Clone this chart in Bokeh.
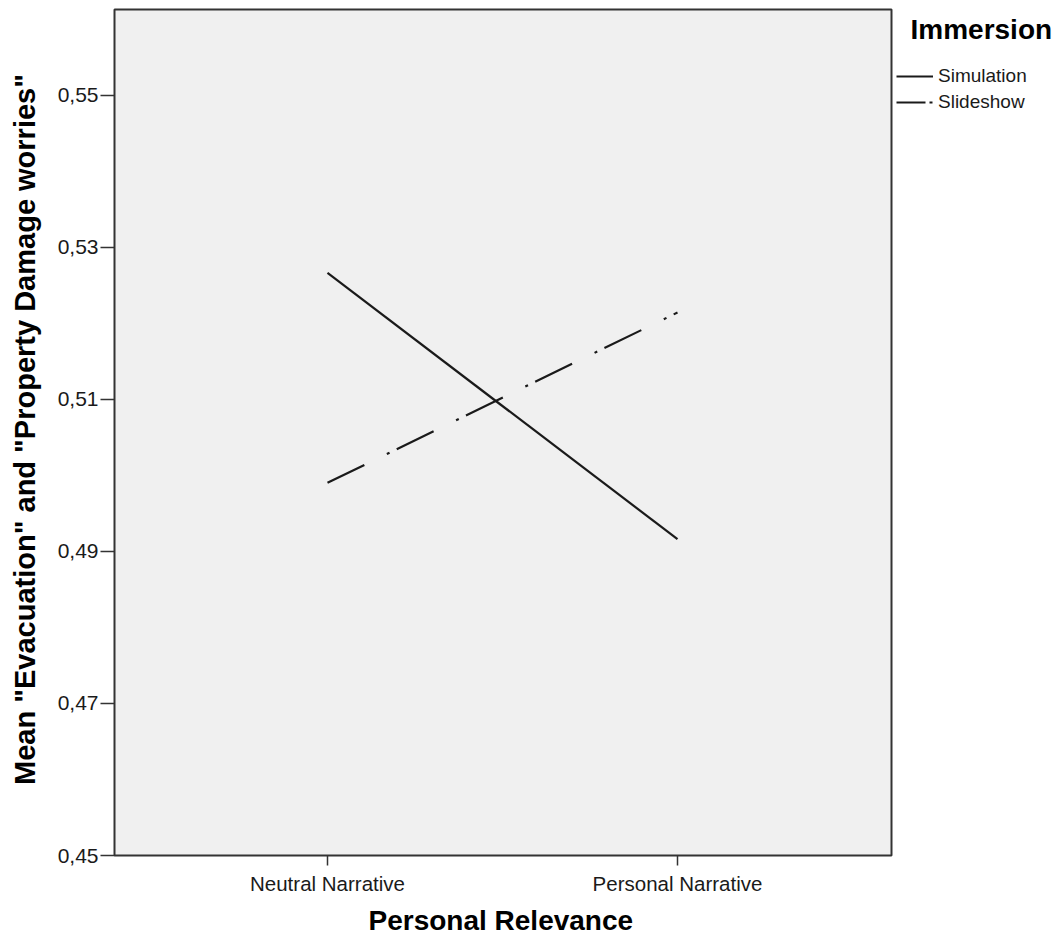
from bokeh.plotting import figure
from bokeh.models import (Range1d, FixedTicker, CustomJSTickFormatter, Legend,
                          LegendItem, Label, BoxAnnotation, Title)
from bokeh.embed import file_html
from bokeh.resources import INLINE

# ---- data ----
categories = ["Neutral Narrative", "Personal Narrative"]
series_names = ["Simulation", "Slideshow"]
simulation = [0.5266, 0.4916]
slideshow = [0.4990, 0.5214]
y_ticks = [0.45, 0.47, 0.49, 0.51, 0.53, 0.55]
legend_title = "Immersion"
x_title = "Personal Relevance"
y_title = 'Mean "Evacuation" and "Property Damage worries"'

x_pos = list(range(1, len(categories) + 1))
NAN = float("nan")

FONT = "Liberation Sans"
INK = "#1a1a1a"
EDGE = "#333333"

# ---- layout (pixels) ----
W, H = 1060, 944
FRAME_L, FRAME_B = 110, 858          # bokeh frame (invisible)
BOX_L, BOX_R, BOX_T, BOX_B = 114, 891, 9, 855   # visible grey plotting box
CAT_PX = 350                          # px between categories
CAT0_PX = 327                         # px of first category
Y_PX = 7605                           # px per data unit on y
Y0 = y_ticks[0]

x_start = 1 - (CAT0_PX - FRAME_L) / CAT_PX
x_end = 1 + (W - CAT0_PX) / CAT_PX
y_start = Y0 - (FRAME_B - BOX_B) / Y_PX
y_end = Y0 + BOX_B / Y_PX

p = figure(width=W, height=H, output_backend="svg", toolbar_location=None,
           x_range=Range1d(x_start, x_end), y_range=Range1d(y_start, y_end),
           min_border_left=FRAME_L, min_border_right=0, min_border_top=0,
           min_border_bottom=H - FRAME_B)
p.background_fill_color = "white"
p.border_fill_color = "white"
p.outline_line_color = None
p.xgrid.visible = False
p.ygrid.visible = False

box = BoxAnnotation(left=1 - (CAT0_PX - BOX_L) / CAT_PX,
                    right=1 + (BOX_R - CAT0_PX) / CAT_PX,
                    bottom=Y0, top=Y0 + (BOX_B - BOX_T) / Y_PX,
                    fill_color="#f0f0f0", fill_alpha=1,
                    line_color=EDGE, line_alpha=1, line_width=2,
                    level="underlay")
p.add_layout(box)

xa = p.xaxis[0]
xa.ticker = FixedTicker(ticks=x_pos, minor_ticks=[])
xa.major_label_overrides = dict(zip(x_pos, categories))
xa.major_tick_out = 7
xa.major_tick_in = 3
xa.minor_tick_out = 0
xa.minor_tick_in = 0
xa.axis_line_color = None
xa.major_tick_line_color = EDGE
xa.major_tick_line_width = 1.5
xa.major_label_standoff = 6
xa.major_label_text_font = FONT
xa.major_label_text_font_size = "20.5px"
xa.major_label_text_color = INK

# x axis title, centred under the grey box (not under the wider frame)
xt = Title(text=x_title, align="left", offset=368 - FRAME_L, standoff=10,
           text_font=FONT, text_font_size="28px", text_font_style="bold",
           text_color="black")
p.add_layout(xt, "below")

ya = p.yaxis[0]
ya.ticker = FixedTicker(ticks=y_ticks, minor_ticks=[])
ya.formatter = CustomJSTickFormatter(code="return tick.toFixed(2).replace('.', ',');")
ya.major_tick_out = 10
ya.major_tick_in = 4
ya.minor_tick_out = 0
ya.minor_tick_in = 0
ya.axis_line_color = None
ya.major_tick_line_color = EDGE
ya.major_tick_line_width = 1.5
ya.major_label_standoff = 2
ya.major_label_text_font = FONT
ya.major_label_text_font_size = "21px"
ya.major_label_text_color = INK
ya.axis_label = y_title
ya.axis_label_text_font = FONT
ya.axis_label_text_font_size = "29px"
ya.axis_label_text_font_style = "bold"
ya.axis_label_text_color = "black"
ya.axis_label_standoff = 14

p.line(x_pos, simulation, line_color=INK, line_width=2.2)
p.line(x_pos, slideshow, line_color=INK, line_width=2.2, line_dash="41 25 3 8")

# legend swatches (no visible data, only used to draw the legend keys)
d1 = p.line([NAN, NAN], [NAN, NAN], line_color=INK, line_width=2)
d2 = p.line([NAN, NAN], [NAN, NAN], line_color=INK, line_width=2,
            line_dash="29 4 3 10")

legend = Legend(items=[LegendItem(label=series_names[0], renderers=[d1]),
                       LegendItem(label=series_names[1], renderers=[d2])],
                location=(896 - FRAME_L, FRAME_B - 114), orientation="vertical")
legend.border_line_color = None
legend.background_fill_alpha = 0
legend.padding = 0
legend.margin = 0
legend.glyph_width = 37
legend.glyph_height = 24
legend.label_height = 24
legend.spacing = 2
legend.label_standoff = 5
legend.label_text_font = FONT
legend.label_text_font_size = "19px"
legend.label_text_color = INK
p.add_layout(legend)

title = Label(x=910 - FRAME_L, y=FRAME_B - 29, x_units="screen", y_units="screen",
              text=legend_title, text_font=FONT, text_font_size="28px",
              text_font_style="bold", text_color="black",
              text_baseline="alphabetic")
p.add_layout(title)

open("out.html", "w").write(file_html(p, INLINE))
